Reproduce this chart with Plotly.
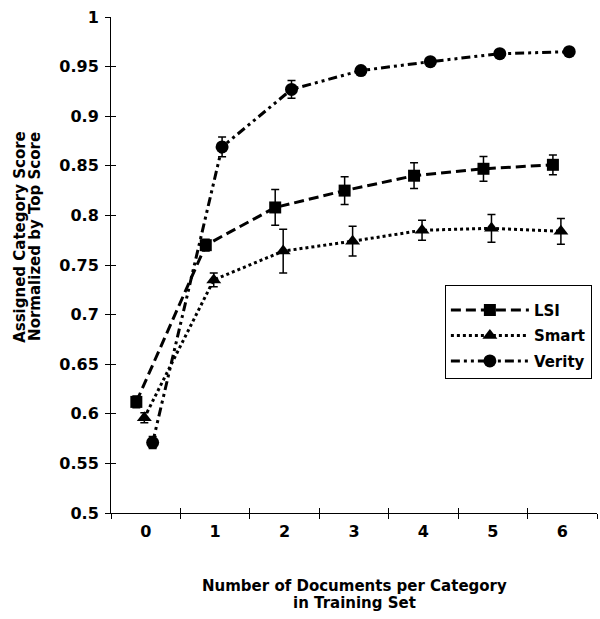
import plotly.graph_objects as go

docs = [0, 1, 2, 3, 4, 5, 6]
lsi = [0.612, 0.770, 0.808, 0.825, 0.840, 0.847, 0.851]
lsi_err = [0.006, 0.006, 0.018, 0.014, 0.013, 0.0125, 0.010]
smart = [0.596, 0.735, 0.764, 0.774, 0.785, 0.787, 0.784]
smart_err = [0.005, 0.007, 0.022, 0.015, 0.010, 0.014, 0.013]
verity = [0.571, 0.869, 0.927, 0.946, 0.955, 0.963, 0.965]
verity_err = [0.006, 0.010, 0.009, 0.003, 0.003, 0.003, 0.002]
y_ticks = [0.5, 0.55, 0.6, 0.65, 0.7, 0.75, 0.8, 0.85, 0.9, 0.95, 1.0]
y_tick_text = ["0.5", "0.55", "0.6", "0.65", "0.7", "0.75", "0.8", "0.85", "0.9", "0.95", "1"]

# small horizontal offsets so the three series don't overlap (style only)
offsets = {"LSI": -0.135, "Smart": -0.02, "Verity": 0.10}

FONT = "DejaVu Sans"
fig = go.Figure()

series = [
    ("LSI", lsi, lsi_err, "square", "10px,5px", 12),
    ("Smart", smart, smart_err, "triangle-up", "3px,3px", 13),
    ("Verity", verity, verity_err, "circle", "9px,4px,3px,4px,3px,4px", 13),
]
for name, vals, err, sym, dash, msize in series:
    fig.add_trace(go.Scatter(
        x=[d + offsets[name] for d in docs], y=vals, name=name,
        mode="lines+markers", legendgroup=name,
        line=dict(color="black", width=3, dash=dash),
        marker=dict(symbol=sym, size=msize, color="black"),
        error_y=dict(type="data", array=err, color="black", thickness=1.5, width=4),
    ))

# helper empty traces for overlay axes (crossing ticks)
fig.add_trace(go.Scatter(x=[], y=[], xaxis="x2", yaxis="y2", showlegend=False))
fig.add_trace(go.Scatter(x=[], y=[], xaxis="x3", yaxis="y3", showlegend=False))

tickfont = dict(family=FONT, size=16, color="black", weight="bold")
titlefont = dict(family=FONT, size=15, color="black", weight="bold")
boundaries = [-0.5, 0.5, 1.5, 2.5, 3.5, 4.5, 5.5, 6.5]
common = dict(showgrid=False, zeroline=False, automargin=False)

fig.update_layout(
    width=600, height=619,
    margin=dict(l=111, r=3, t=17, b=106, autoexpand=False),
    paper_bgcolor="white", plot_bgcolor="white",
    showlegend=True,
    legend=dict(
        x=0.687, y=0.46, xanchor="left", yanchor="top",
        bordercolor="black", borderwidth=1, bgcolor="white",
        font=dict(family=FONT, size=15, color="black", weight="bold"),
        title=dict(text=" ", font=dict(family=FONT, size=6)),
        itemwidth=78, tracegroupgap=3, traceorder="grouped",
    ),
    xaxis=dict(
        range=[-0.5, 6.5], tickmode="array", tickvals=docs,
        ticktext=[str(d) for d in docs], ticks="",
        showline=True, linecolor="black", linewidth=1, tickfont=tickfont,
        ticklabelstandoff=4, **common,
    ),
    xaxis2=dict(
        range=[-0.5, 6.5], overlaying="x", anchor="y2", tickmode="array",
        tickvals=boundaries, ticks="outside", ticklen=5, tickcolor="black",
        showticklabels=False, showline=False, **common,
    ),
    xaxis3=dict(
        range=[-0.5, 6.5], overlaying="x", anchor="y3", tickmode="array",
        tickvals=boundaries, ticks="inside", ticklen=5, tickcolor="black",
        showticklabels=False, showline=False, **common,
    ),
    yaxis=dict(
        range=[0.5, 1.0], tickmode="array", tickvals=y_ticks, ticktext=y_tick_text,
        ticks="outside", ticklen=5, tickcolor="black",
        showline=True, linecolor="black", linewidth=1, tickfont=tickfont,
        ticklabelstandoff=3, **common,
    ),
    yaxis2=dict(
        range=[0.5, 1.0], overlaying="y", anchor="x2", tickmode="array",
        tickvals=y_ticks, ticks="outside", ticklen=5, tickcolor="black",
        showticklabels=False, showline=False, **common,
    ),
    yaxis3=dict(
        range=[0.5, 1.0], overlaying="y", anchor="x3", tickmode="array",
        tickvals=y_ticks, ticks="inside", ticklen=5, tickcolor="black",
        showticklabels=False, showline=False, **common,
    ),
    annotations=[
        dict(text="Assigned Category Score", xref="paper", yref="paper",
             x=-0.187, y=0.557, xanchor="center", yanchor="middle",
             textangle=-90, showarrow=False, font=titlefont),
        dict(text="Normalized by Top Score", xref="paper", yref="paper",
             x=-0.156, y=0.557, xanchor="center", yanchor="middle",
             textangle=-90, showarrow=False, font=titlefont),
        dict(text="Number of Documents per Category", xref="paper", yref="paper",
             x=0.5, y=-0.148, xanchor="center", yanchor="middle",
             showarrow=False, font=titlefont),
        dict(text="in Training Set", xref="paper", yref="paper",
             x=0.5, y=-0.181, xanchor="center", yanchor="middle",
             showarrow=False, font=titlefont),
    ],
)

fig.write_html("out.html", config={"displayModeBar": False},
               post_script="document.body.style.margin='0';")
